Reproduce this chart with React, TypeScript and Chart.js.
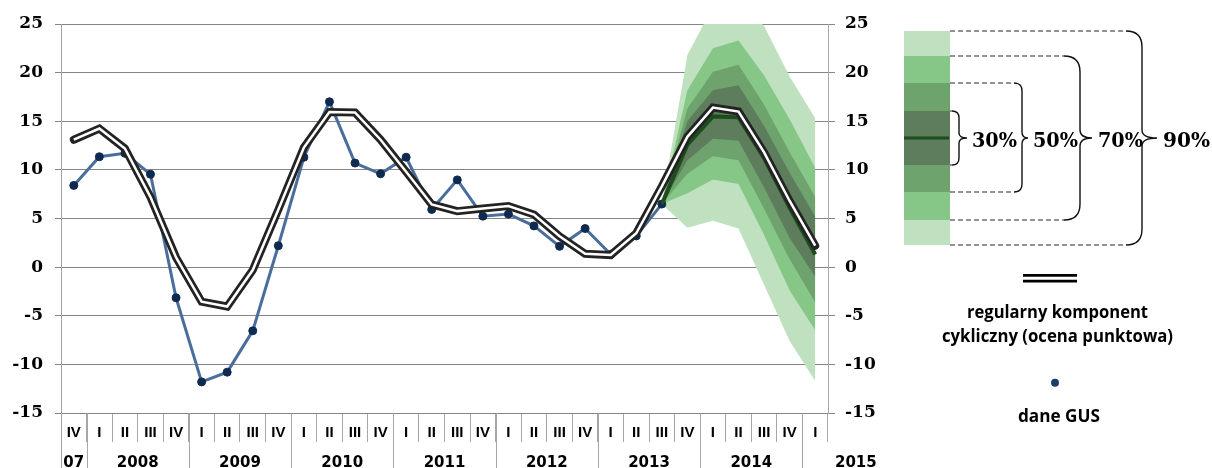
import React, { useEffect, useRef } from 'react';
import { Chart, registerables } from 'chart.js';

Chart.register(...registerables);

// ---------- DATA ----------
const quarters = [
  'IV',
  'I', 'II', 'III', 'IV',
  'I', 'II', 'III', 'IV',
  'I', 'II', 'III', 'IV',
  'I', 'II', 'III', 'IV',
  'I', 'II', 'III', 'IV',
  'I', 'II', 'III', 'IV',
  'I', 'II', 'III', 'IV',
  'I',
];
const yearLabels = ['07', '2008', '2009', '2010', '2011', '2012', '2013', '2014', '2015'];
const yearSpans = [1, 4, 4, 4, 4, 4, 4, 4, 1];

const N = null;
// dane GUS
const gusData = [
  8.4, 11.35, 11.7, 9.55, -3.15, -11.8, -10.8, -6.55, 2.2, 11.3, 17.0, 10.7, 9.6,
  11.3, 5.93, 8.97, 5.24, 5.45, 4.24, 2.14, 3.97, 1.31, 3.21, 6.48, N, N, N, N, N, N,
];
// regularny komponent cykliczny (ocena punktowa)
const cyclicalData = [
  13.1, 14.25, 12.2, 7.2, 1.0, -3.55, -4.05, -0.3, 5.9, 12.3, 15.95, 15.9, 13.1,
  9.8, 6.45, 5.76, 6.03, 6.28, 5.41, 3.17, 1.38, 1.24, 3.48, 8.3, 13.4, 16.4, 16.0, 11.8, 6.8, 2.2,
];
// central forecast path
const medianData = [
  N, N, N, N, N, N, N, N, N, N, N, N, N, N, N, N, N, N, N, N, N, N, N,
  6.48, 12.6, 15.5, 15.4, 11.2, 6.1, 1.3,
];
const pre = [N, N, N, N, N, N, N, N, N, N, N, N, N, N, N, N, N, N, N, N, N, N, N];
const band30Upper = [...pre, 6.48, 15.0, 18.2, 18.7, 14.5, 9.7, 5.2];
const band30Lower = [...pre, 6.48, 11.0, 13.2, 13.0, 8.2, 3.0, -1.0];
const band50Upper = [...pre, 6.48, 16.3, 20.1, 20.8, 16.7, 11.8, 7.2];
const band50Lower = [...pre, 6.48, 9.6, 11.4, 11.0, 6.0, 0.8, -3.6];
const band70Upper = [...pre, 6.48, 18.2, 22.5, 23.3, 19.7, 15.2, 10.2];
const band70Lower = [...pre, 6.48, 7.6, 9.0, 8.55, 3.3, -2.4, -6.5];
const band90Upper = [...pre, 6.48, 21.8, 26.8, 27.5, 24.8, 19.6, 15.3];
const band90Lower = [...pre, 6.48, 4.05, 4.76, 3.97, -1.8, -7.6, -11.7];

const yMin = -15;
const yMax = 25;
const yStep = 5;

// ---------- STYLE ----------
const C90 = '#bfe1bf';
const C70 = '#86c686';
const C50 = '#6ea36e';
const C30 = '#5d7d5d';
const CMED = '#1d4d1d';
const CGUS = '#4a6e9c';
const CGUSPT = '#0f2a50';
const GRID = '#858585';
const AXIS = '#a6a6a6';

const yearRowPlugin = {
  id: 'yearRow',
  afterDraw(chart: any) {
    const xs = chart.scales.x;
    const ctx = chart.ctx;
    const step = xs.getPixelForValue(1) - xs.getPixelForValue(0);
    const half = step / 2;
    let idx = 0;
    ctx.save();
    ctx.strokeStyle = AXIS;
    ctx.lineWidth = 1;
    ctx.font = 'bold 15px "DejaVu Sans"';
    ctx.fillStyle = '#000';
    ctx.textBaseline = 'alphabetic';
    yearLabels.forEach((lab, k) => {
      const span = yearSpans[k];
      const left = xs.getPixelForValue(idx) - half;
      const right = xs.getPixelForValue(idx + span - 1) + half;
      const lx = Math.round(left) + 0.5;
      ctx.beginPath();
      ctx.moveTo(lx, xs.top);
      ctx.lineTo(lx, chart.height);
      ctx.stroke();
      const w = ctx.measureText(lab).width;
      if (w > right - left) {
        ctx.textAlign = 'left';
        ctx.fillText(lab, right + 7, chart.height - 1);
      } else {
        ctx.textAlign = 'center';
        ctx.fillText(lab, (left + right) / 2, chart.height - 1);
      }
      idx += span;
    });
    ctx.restore();
  },
};

function lineDs(label: string, data: any[], color: string, width: number, order: number, extra: any = {}) {
  return {
    type: 'line',
    label,
    data,
    borderColor: color,
    borderWidth: width,
    pointRadius: 0,
    fill: false,
    order,
    tension: 0,
    spanGaps: false,
    yAxisID: 'y',
    ...extra,
  };
}

function bandDs(label: string, data: any[], color: string, order: number, target: number | false) {
  return {
    type: 'line',
    label,
    data,
    borderWidth: 0,
    borderColor: 'rgba(0,0,0,0)',
    backgroundColor: color,
    pointRadius: 0,
    fill: target === false ? false : { target },
    order,
    tension: 0,
    yAxisID: 'y',
  };
}

function ChartCanvas() {
  const ref = useRef<HTMLCanvasElement>(null);
  useEffect(() => {
    if (!ref.current) return;
    const yTickFont = { family: '"DejaVu Serif"', size: 17, weight: 'bold' as const };
    const chart = new Chart(ref.current, {
      type: 'line',
      data: {
        labels: quarters,
        datasets: [
          lineDs('cykl-inner', cyclicalData, '#ffffff', 2.5, 0),
          lineDs('regularny komponent cykliczny (ocena punktowa)', cyclicalData, '#232323', 8, 1, { borderCapStyle: 'round' }),
          lineDs('ścieżka centralna', medianData, CMED, 4, 2),
          lineDs('dane GUS', gusData, CGUS, 3, 3, {
            pointRadius: 4,
            pointBackgroundColor: CGUSPT,
            pointBorderColor: CGUSPT,
            pointBorderWidth: 1,
          }),
          bandDs('30% góra', band30Upper, C30, 4, 5),
          bandDs('30% dół', band30Lower, C30, 4, false),
          bandDs('50% góra', band50Upper, C50, 5, 7),
          bandDs('50% dół', band50Lower, C50, 5, false),
          bandDs('70% góra', band70Upper, C70, 6, 9),
          bandDs('70% dół', band70Lower, C70, 6, false),
          bandDs('90% góra', band90Upper, C90, 7, 11),
          bandDs('90% dół', band90Lower, C90, 7, false),
        ] as any,
      },
      options: {
        responsive: false,
        animation: false,
        events: [],
        layout: { padding: { left: 0, top: 24, right: 312, bottom: 0 } },
        plugins: {
          legend: { display: false },
          tooltip: { enabled: false },
        },
        scales: {
          x: {
            type: 'category',
            offset: true,
            grid: {
              offset: true,
              drawOnChartArea: false,
              drawTicks: true,
              tickLength: 29,
              color: AXIS,
            },
            border: { display: false },
            ticks: {
              autoSkip: false,
              maxRotation: 0,
              minRotation: 0,
              padding: -18,
              color: '#000',
              font: { family: '"Liberation Sans"', size: 15, weight: 'bold' },
            },
            afterFit(scale: any) {
              scale.height = 55;
            },
          },
          y: {
            position: 'left',
            min: yMin,
            max: yMax,
            ticks: { stepSize: yStep, padding: 12, color: '#000', font: yTickFont },
            grid: { color: GRID, tickLength: 6, lineWidth: 1 },
            border: { display: true, color: AXIS },
            afterFit(scale: any) {
              scale.width = 61;
            },
          },
          y2: {
            position: 'right',
            min: yMin,
            max: yMax,
            ticks: { stepSize: yStep, padding: 10, color: '#000', font: yTickFont },
            grid: { drawOnChartArea: false, color: GRID, tickLength: 7 },
            border: { display: true, color: AXIS },
            afterFit(scale: any) {
              scale.width = 72;
            },
          },
        },
      } as any,
      plugins: [yearRowPlugin],
    });
    return () => chart.destroy();
  }, []);
  return <canvas ref={ref} width={1212} height={468} style={{ width: 1212, height: 468, display: 'block' }} />;
}

function brace(xv: number, yTop: number, yBot: number, ymid: number, r: number, tip: number, r2: number) {
  return (
    `M ${xv - r} ${yTop} Q ${xv} ${yTop} ${xv} ${yTop + r} ` +
    `L ${xv} ${ymid - r2} Q ${xv} ${ymid} ${xv + tip} ${ymid} ` +
    `Q ${xv} ${ymid} ${xv} ${ymid + r2} L ${xv} ${yBot - r} ` +
    `Q ${xv} ${yBot} ${xv - r} ${yBot}`
  );
}

const fanLegend = [
  { label: '30%', yTop: 111, yBot: 165, xv: 959, r: 7, tip: 8, r2: 5, tx: 972, tw: 45 },
  { label: '50%', yTop: 83, yBot: 192, xv: 1022, r: 8, tip: 6, r2: 6, tx: 1033, tw: 45 },
  { label: '70%', yTop: 56, yBot: 220, xv: 1080, r: 16, tip: 12, r2: 8, tx: 1098, tw: 45 },
  { label: '90%', yTop: 31, yBot: 245, xv: 1142, r: 16, tip: 15, r2: 8, tx: 1163, tw: 47 },
];

function Legend() {
  const barX = 904;
  const barW = 46;
  const mid = 138;
  const stripes = [
    [31, 56, C90], [56, 83, C70], [83, 111, C50], [111, 165, C30],
    [165, 192, C50], [192, 220, C70], [220, 245, C90],
  ] as const;
  return (
    <svg width={1212} height={468} style={{ position: 'absolute', left: 0, top: 0, pointerEvents: 'none' }}>
      {stripes.map(([a, b, c], i) => (
        <rect key={i} x={barX} y={a} width={barW} height={b - a} fill={c} />
      ))}
      <line x1={barX} x2={barX + barW - 1} y1={mid} y2={mid} stroke={CMED} strokeWidth={3} />
      {fanLegend.map((f) => (
        <g key={f.label}>
          {f.xv - f.r > barX + barW + 1 && (
            <path
              d={`M ${barX + barW} ${f.yTop} L ${f.xv - f.r} ${f.yTop} M ${barX + barW} ${f.yBot} L ${f.xv - f.r} ${f.yBot}`}
              stroke="#262626"
              strokeWidth={1.2}
              strokeDasharray="5 3"
              fill="none"
            />
          )}
          <path d={brace(f.xv, f.yTop, f.yBot, mid, f.r, f.tip, f.r2)} stroke="#111" strokeWidth={1.4} fill="none" />
          <text
            x={f.tx}
            y={147}
            fontFamily="DejaVu Serif"
            fontWeight="bold"
            fontSize={21}
            textLength={f.tw}
            lengthAdjust="spacingAndGlyphs"
            fill="#000"
          >
            {f.label}
          </text>
        </g>
      ))}
      <line x1={1023} x2={1077} y1={278.3} y2={278.3} stroke="#000" strokeWidth={8.5} />
      <line x1={1023} x2={1077} y1={278.3} y2={278.3} stroke="#fff" strokeWidth={3} />
      <text x={967} y={318} fontFamily="Open Sans" fontWeight="bold" fontSize={17.5} textLength={181} lengthAdjust="spacingAndGlyphs" fill="#000">
        regularny komponent
      </text>
      <text x={942} y={342} fontFamily="Open Sans" fontWeight="bold" fontSize={17.5} textLength={231} lengthAdjust="spacingAndGlyphs" fill="#000">
        cykliczny (ocena punktowa)
      </text>
      <circle cx={1055} cy={382.7} r={4} fill="#1f3d6b" />
      <text x={1018} y={421.5} fontFamily="Open Sans" fontWeight="bold" fontSize={17.5} textLength={82} lengthAdjust="spacingAndGlyphs" fill="#000">
        dane GUS
      </text>
    </svg>
  );
}

export default function App() {
  return (
    <div style={{ position: 'absolute', left: 0, top: 0, width: 1212, height: 468, background: '#fff', overflow: 'hidden' }}>
      <ChartCanvas />
      <Legend />
    </div>
  );
}
